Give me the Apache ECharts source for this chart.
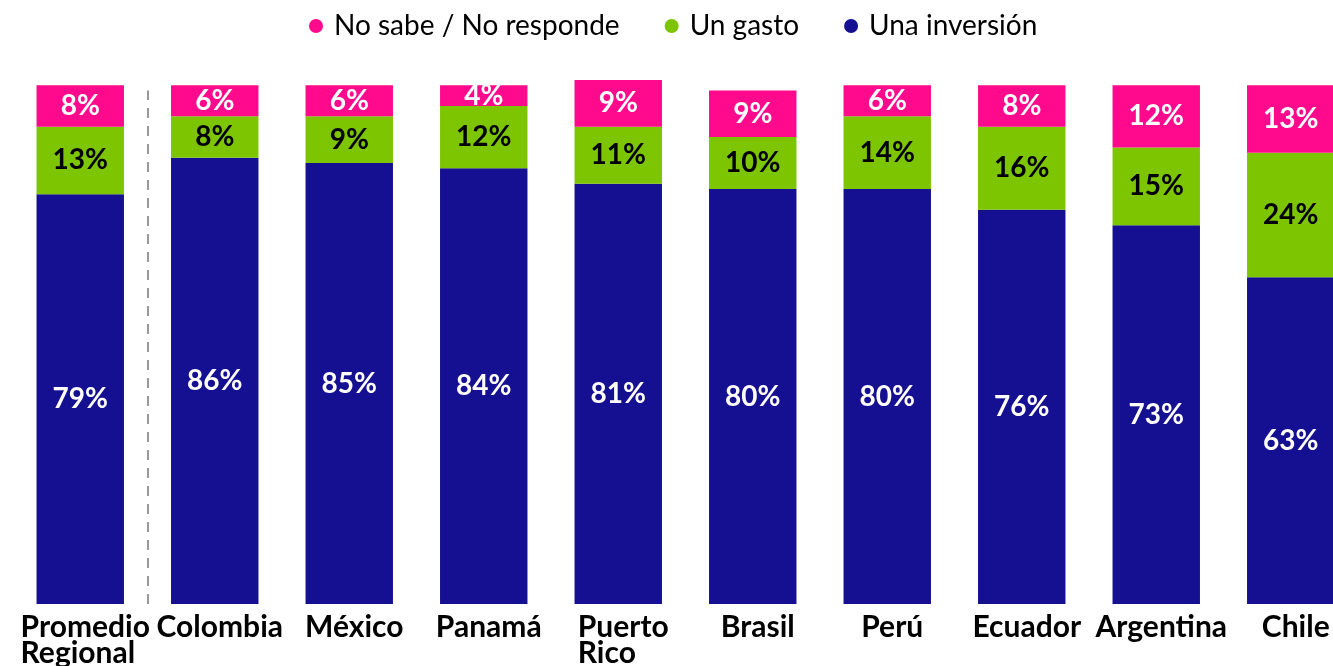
<!DOCTYPE html>
<html><head><meta charset="utf-8">
<script src="https://cdn.jsdelivr.net/npm/echarts@6/dist/echarts.min.js"></script>
<style>html,body{margin:0;padding:0;background:#fff}#c{width:1333px;height:666px}</style>
</head><body><div id="c"></div>
<script>
const categories = ['Promedio\nRegional','Colombia','México','Panamá','Puerto\nRico','Brasil','Perú','Ecuador','Argentina','Chile'];
const inversion = [79,86,85,84,81,80,80,76,73,63];
const gasto = [13,8,9,12,11,10,14,16,15,24];
const noSabe = [8,6,6,4,9,9,6,8,12,13];
const seriesNames = ['Una inversión','Un gasto','No sabe / No responde'];
const legendOrder = ['No sabe / No responde','Un gasto','Una inversión'];
const colors = ['#150F91','#7DC500','#FF0A8C'];
const labelColors = ['#ffffff','#000000','#ffffff'];
const values = [inversion, gasto, noSabe];
const separatorAt = 1;       // boundary between 1st and 2nd category
const separatorSpan = [0, 99];

const chart = echarts.init(document.getElementById('c'));
const series = seriesNames.map(function(n,i){return {
  name:n, type:'bar', stack:'t', barWidth:'65%', data:values[i],
  itemStyle:{color:colors[i]},
  label:{show:true, position:'inside', formatter:'{c}%', color:labelColors[i], fontFamily:'Lato', fontWeight:'bold', fontSize:28}
};});
series.push({
  name:'sep', type:'line', xAxisIndex:1, data:[], silent:true,
  markLine:{silent:true, symbol:'none', label:{show:false}, animation:false,
    lineStyle:{color:'#999', type:[10,8], width:2},
    data:[[{coord:[separatorAt, separatorSpan[0]]},{coord:[separatorAt, separatorSpan[1]]}]]}
});
chart.setOption({
  animation:false,
  textStyle:{fontFamily:'Lato'},
  legend:{
    data: legendOrder, top:7, left:304, icon:'circle', itemWidth:14, itemHeight:14, itemGap:45,
    textStyle:{fontFamily:'Lato', fontSize:28, color:'#000', padding:[0,0,0,6]}
  },
  grid:{left:13, width:1345, top:80, bottom:62, outerBoundsMode:'none', containLabel:false},
  xAxis:[{
    type:'category', data:categories,
    axisLine:{show:false}, axisTick:{show:false}, splitLine:{show:false},
    axisLabel:{
      interval:0, margin:10, color:'#000', fontFamily:'Lato', fontWeight:'bold', fontSize:30, lineHeight:26,
      padding:[0,0,0,10],
      formatter:function(v){return v.split('\n').map(function(s){return '{a|'+s+'}';}).join('\n');},
      rich:{a:{fontFamily:'Lato', fontWeight:'bold', fontSize:30, lineHeight:26, color:'#000', align:'left'}}
    }
  },{
    type:'value', min:0, max:categories.length, show:false, splitLine:{show:false}
  }],
  yAxis:{type:'value', min:0, max:101, show:false, splitLine:{show:false}},
  series: series
});
</script></body></html>
